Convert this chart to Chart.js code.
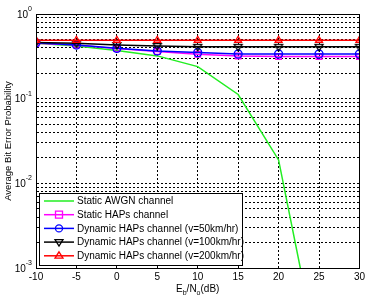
<!DOCTYPE html>
<html>
<head>
<meta charset="utf-8">
<script src="https://cdn.jsdelivr.net/npm/chart.js@4/dist/chart.umd.min.js"></script>
<style>
  html, body { margin: 0; padding: 0; background: #fff; }
  #wrap { width: 368px; height: 302px; }
</style>
</head>
<body>
<div id="wrap"><canvas id="berChart" width="368" height="302"></canvas></div>
<script>
// Eb/No (dB)
const ebno = [-10, -5, 0, 5, 10, 15, 20, 25, 30];

// 各チャネルの平均ビット誤り率
const awgn    = [0.45, 0.42, 0.37, 0.32, 0.239, 0.112, 0.0189, 0.00008, null];
const hapsStatic = [0.45, 0.43, 0.39, 0.36, 0.335, 0.32, 0.315, 0.315, 0.315];
const haps50  = [0.458, 0.43, 0.393, 0.366, 0.35, 0.337, 0.337, 0.337, 0.337];
const haps100 = [0.46, 0.45, 0.43, 0.42, 0.41, 0.41, 0.41, 0.41, 0.41];
const haps200 = [0.49, 0.49, 0.49, 0.49, 0.49, 0.49, 0.49, 0.49, 0.49];

const seriesNames = [
    'Static AWGN channel',
    'Static HAPs channel',
    'Dynamic HAPs channel (v=50km/hr)',
    'Dynamic HAPs channel (v=100km/hr)',
    'Dynamic HAPs channel (v=200km/hr)'
];

// 目盛り
const xTicks = [-10, -5, 0, 5, 10, 15, 20, 25, 30];
const yMajor = [1e-3, 1e-2, 1e-1, 1];
const yExp = ['-3', '-2', '-1', '0'];

// 対数グリッド (各桁の 1..9)
const yGrid = [];
[1e-3, 1e-2, 1e-1].forEach(d => {
    for (let k = 1; k < 10; k++) yGrid.push(d * k);
});
yGrid.push(1);

const FONT = '"Liberation Sans", Arial, sans-serif';

const styles = [
    { color: '#22ee22', marker: false },
    { color: '#ff00ff', marker: 'rect' },
    { color: '#0000ff', marker: 'circle' },
    { color: '#000000', marker: 'down' },
    { color: '#ff0000', marker: 'triangle' }
];

// 下向き三角マーカー
function downTriangle(r) {
    const c = document.createElement('canvas');
    const s = Math.ceil(r * 2 + 4);
    c.width = s; c.height = s;
    const g = c.getContext('2d');
    g.strokeStyle = '#000';
    g.lineWidth = 1.3;
    g.beginPath();
    g.moveTo(s / 2 - r, s / 2 - r * 0.6);
    g.lineTo(s / 2 + r, s / 2 - r * 0.6);
    g.lineTo(s / 2, s / 2 + r);
    g.closePath();
    g.stroke();
    return c;
}
const downImg = downTriangle(4);

function drawMarker(ctx, type, x, y, color) {
    const r = 4;
    ctx.save();
    ctx.strokeStyle = color;
    ctx.lineWidth = 1.3;
    ctx.beginPath();
    if (type === 'rect') {
        ctx.rect(x - r + 0.5, y - r + 0.5, 2 * r - 1, 2 * r - 1);
    } else if (type === 'circle') {
        ctx.arc(x, y, r - 0.5, 0, Math.PI * 2);
    } else if (type === 'triangle') {
        ctx.moveTo(x, y - r);
        ctx.lineTo(x + r, y + r * 0.6);
        ctx.lineTo(x - r, y + r * 0.6);
        ctx.closePath();
    } else if (type === 'down') {
        ctx.moveTo(x - r, y - r * 0.6);
        ctx.lineTo(x + r, y - r * 0.6);
        ctx.lineTo(x, y + r);
        ctx.closePath();
    }
    ctx.stroke();
    ctx.restore();
}

const allData = [awgn, hapsStatic, haps50, haps100, haps200];

const datasets = allData.map((vals, i) => {
    const st = styles[i];
    let pointStyle = st.marker || 'circle';
    if (st.marker === 'down') pointStyle = downImg;
    return {
        label: seriesNames[i],
        data: vals,
        borderColor: st.color,
        backgroundColor: 'rgba(0,0,0,0)',
        borderWidth: 1.5,
        pointStyle: pointStyle,
        pointRadius: st.marker ? 4 : 0,
        pointBorderWidth: 1.3,
        pointBorderColor: st.color,
        pointBackgroundColor: 'rgba(0,0,0,0)',
        tension: 0,
        spanGaps: false,
        order: 5 - i
    };
});

// 軸ラベル・凡例・枠を描くプラグイン
const decorPlugin = {
    id: 'decor',
    afterDraw(chart) {
        const ctx = chart.ctx;
        const a = chart.chartArea;
        const ys = chart.scales.y;

        // 枠
        ctx.save();
        ctx.strokeStyle = '#000';
        ctx.lineWidth = 1;
        ctx.strokeRect(Math.round(a.left) + 0.5, Math.round(a.top) + 0.5,
            Math.round(a.right - a.left), Math.round(a.bottom - a.top));

        // y 目盛りラベル 10^n
        ctx.fillStyle = '#000';
        yMajor.forEach((v, i) => {
            const py = ys.getPixelForValue(v);
            ctx.font = '7px ' + FONT;
            const ew = ctx.measureText(yExp[i]).width;
            ctx.textAlign = 'left';
            ctx.textBaseline = 'middle';
            ctx.fillText(yExp[i], a.left - 4 - ew, py - 5);
            ctx.font = '10px ' + FONT;
            ctx.textAlign = 'right';
            ctx.fillText('10', a.left - 4 - ew, py + 1);
        });

        // x 軸タイトル E_b/N_o(dB)
        ctx.textBaseline = 'alphabetic';
        ctx.textAlign = 'left';
        const parts = [['E', 10, 0], ['b', 7, 3], ['/N', 10, 0], ['o', 7, 3], ['(dB)', 10, 0]];
        let total = 0;
        parts.forEach(p => { ctx.font = p[1] + 'px ' + FONT; total += ctx.measureText(p[0]).width; });
        let px = (a.left + a.right) / 2 - total / 2;
        parts.forEach(p => {
            ctx.font = p[1] + 'px ' + FONT;
            ctx.fillText(p[0], px, 292 + p[2]);
            px += ctx.measureText(p[0]).width;
        });

        // y 軸タイトル
        ctx.save();
        ctx.translate(8, (a.top + a.bottom) / 2);
        ctx.rotate(-Math.PI / 2);
        ctx.font = '9.5px ' + FONT;
        ctx.textAlign = 'center';
        ctx.textBaseline = 'middle';
        ctx.fillText('Average Bit Error Probability', 0, 0);
        ctx.restore();

        // 凡例
        const lx = 39, ly = 193, lw = 203, lh = 72;
        ctx.fillStyle = '#fff';
        ctx.fillRect(lx, ly, lw, lh);
        ctx.strokeStyle = '#000';
        ctx.lineWidth = 1;
        ctx.strokeRect(lx + 0.5, ly + 0.5, lw, lh);
        seriesNames.forEach((name, i) => {
            const yy = 201 + i * 13.7;
            const st = styles[i];
            ctx.strokeStyle = st.color;
            ctx.lineWidth = 1.5;
            ctx.beginPath();
            ctx.moveTo(44, yy);
            ctx.lineTo(74, yy);
            ctx.stroke();
            if (st.marker) drawMarker(ctx, st.marker, 59, yy, st.color);
            ctx.fillStyle = '#000';
            ctx.font = '10px ' + FONT;
            ctx.textAlign = 'left';
            ctx.textBaseline = 'middle';
            ctx.fillText(name, 77, yy + 0.5);
        });
        ctx.restore();
    }
};

const ctx = document.getElementById('berChart').getContext('2d');
const berChart = new Chart(ctx, {
    type: 'line',
    data: {
        labels: ebno,
        datasets: datasets
    },
    options: {
        responsive: false,
        animation: false,
        devicePixelRatio: 1,
        layout: { padding: { left: 0, right: 8, top: 14, bottom: 0 } },
        plugins: {
            legend: { display: false },
            tooltip: { enabled: false }
        },
        scales: {
            x: {
                type: 'linear',
                min: -10,
                max: 30,
                afterBuildTicks: s => { s.ticks = xTicks.map(v => ({ value: v })); },
                afterFit: s => { s.height = 34; },
                ticks: {
                    color: '#000',
                    font: { size: 10, family: FONT },
                    padding: 3,
                    maxRotation: 0,
                    autoSkip: false
                },
                grid: { color: '#000', lineWidth: 1, drawTicks: false },
                border: { display: true, color: '#000', dash: [2, 2] }
            },
            y: {
                type: 'logarithmic',
                min: 1e-3,
                max: 1,
                afterBuildTicks: s => { s.ticks = yGrid.map(v => ({ value: v })); },
                afterFit: s => { s.width = 36; },
                ticks: { display: false },
                grid: { color: '#000', lineWidth: 1, drawTicks: false },
                border: { display: true, color: '#000', dash: [2, 2] }
            }
        }
    },
    plugins: [decorPlugin]
});
</script>
</body>
</html>
